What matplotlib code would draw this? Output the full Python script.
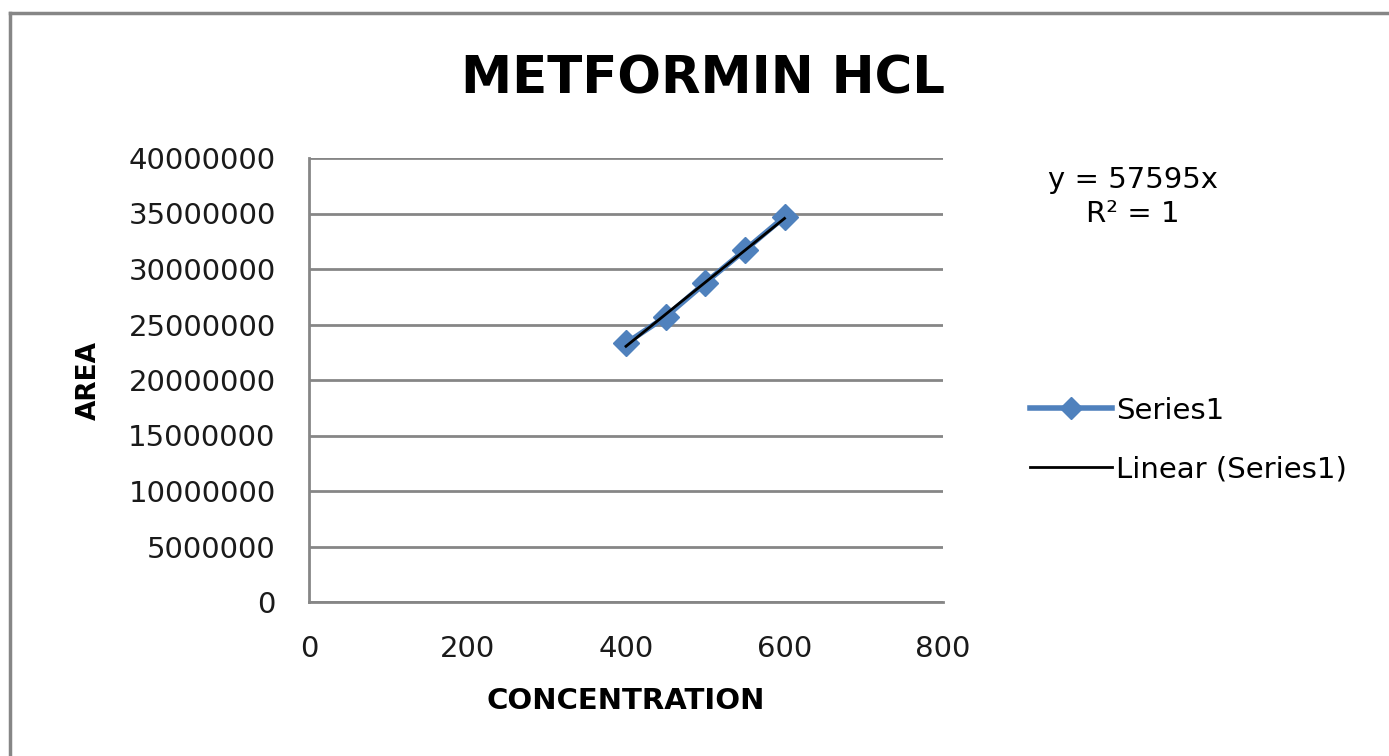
import numpy as np
import matplotlib
matplotlib.use("Agg")
import matplotlib.pyplot as plt
from matplotlib.lines import Line2D

# data
conc = [400, 450, 500, 550, 600]
area = [23300000, 25700000, 28750000, 31700000, 34700000]
slope = 57595          # Excel trendline, forced through zero
xticks = [0, 200, 400, 600, 800]
yticks = np.arange(0, 40000001, 5000000)

blue = '#4F81BD'
grey = '#868686'
plt.rcParams['font.family'] = ['DejaVu Sans']

fig = plt.figure(figsize=(13.89, 7.56), dpi=100)
ax = fig.add_axes([309/1389, 154/756, 634/1389, 444/756])

ax.plot(conc, area, color=blue, lw=4, marker='D', ms=13, mec=blue, mfc=blue,
        label='Series1', zorder=3)
xt = np.array([conc[0], conc[-1]])
ax.plot(xt, slope*xt, color='k', lw=2, label='Linear (Series1)', zorder=4)

ax.set_xlim(0, 800)
ax.set_ylim(0, 40000000)
ax.set_xticks(xticks)
ax.set_yticks(yticks)
ax.yaxis.grid(True, color=grey, lw=2)
ax.set_axisbelow(True)
ax.tick_params(length=0, labelsize=21, pad=24, colors='#1a1a1a')
ax.ticklabel_format(style='plain', axis='y')

for s in ['top', 'right']:
    ax.spines[s].set_visible(False)
for s in ['left', 'bottom']:
    ax.spines[s].set_color(grey)
    ax.spines[s].set_linewidth(2)

ax.set_xlabel('CONCENTRATION', fontsize=21, fontweight='bold', labelpad=17)
ax.set_ylabel('AREA', fontsize=19, fontweight='bold', labelpad=19)

fig.text(703/1389, 1 - 80/756, 'METFORMIN HCL', fontsize=37, fontweight='bold',
         ha='center', va='center')

fig.text(1133/1389, 1 - 197/756, 'y = 57595x\nR² = 1', fontsize=21,
         ha='center', va='center', linespacing=1.25)

fig.legend(loc='center left', bbox_to_anchor=(1004/1389, 1 - 440/756),
           frameon=False, fontsize=21, handlelength=2.8, handletextpad=0.15,
           labelspacing=1.05, markerscale=0.85)

# outer chart border
fig.add_artist(Line2D([10/1389, 10/1389], [0, 1 - 13/756], color=grey, lw=2.5,
                      transform=fig.transFigure))
fig.add_artist(Line2D([10/1389, 1], [1 - 13/756, 1 - 13/756], color=grey, lw=2.5,
                      transform=fig.transFigure))

fig.savefig('out.png', dpi=100)
